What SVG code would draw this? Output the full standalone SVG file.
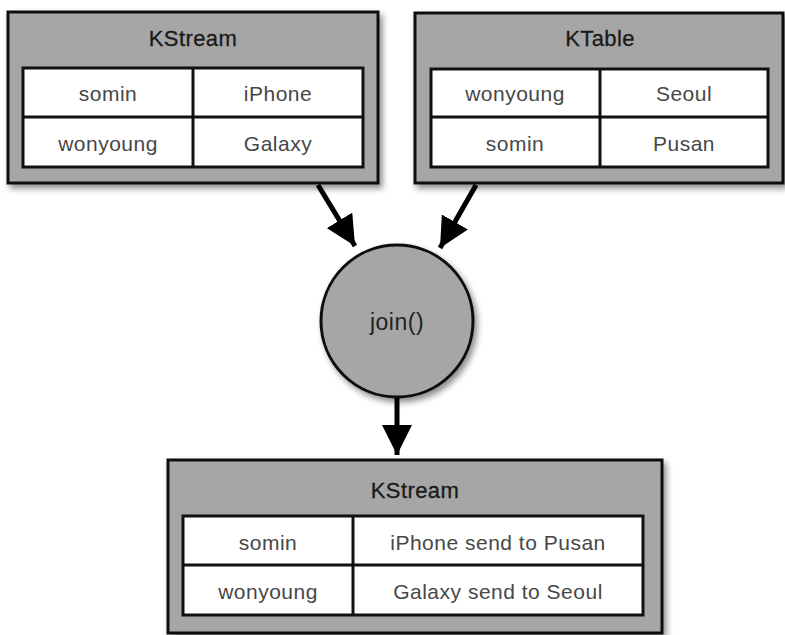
<svg xmlns="http://www.w3.org/2000/svg" width="785" height="635" viewBox="0 0 785 635">
<defs>
<filter id="sh" x="-10%" y="-10%" width="125%" height="130%">
<feDropShadow dx="3" dy="4" stdDeviation="3" flood-color="#000" flood-opacity="0.45"/>
</filter>
<marker id="ah" markerUnits="userSpaceOnUse" markerWidth="30" markerHeight="30" viewBox="0 0 26 26" refX="26" refY="13" orient="auto">
<path d="M0,0 L26,13 L0,26 Z" fill="#000"/>
</marker>
</defs>
<style>
.box{fill:#a6a6a6;stroke:#111;stroke-width:3}
.tbl{fill:#fff;stroke:#111;stroke-width:3}
.ln{stroke:#111;stroke-width:3;fill:none}
.title{font-family:"Liberation Sans",Arial,sans-serif;font-size:22px;letter-spacing:0.4px;fill:#1a1a1a;stroke:#1a1a1a;stroke-width:0.3px;text-anchor:middle}
.cell{font-family:"Liberation Sans",Arial,sans-serif;font-size:21px;letter-spacing:0.5px;fill:#474747;text-anchor:middle}
.conn{stroke:#000;stroke-width:5;fill:none;marker-end:url(#ah)}
</style>
<rect width="785" height="635" fill="#fff"/>

<g id="kstream-in">
<rect class="box" x="8" y="12" width="370" height="171" filter="url(#sh)"/>
<text class="title" x="193" y="46">KStream</text>
<rect class="tbl" x="23" y="68" width="340" height="99"/>
<line class="ln" x1="193" y1="68" x2="193" y2="167"/>
<line class="ln" x1="23" y1="117" x2="363" y2="117"/>
<text class="cell" x="108" y="101">somin</text>
<text class="cell" x="278" y="101">iPhone</text>
<text class="cell" x="108" y="151">wonyoung</text>
<text class="cell" x="278" y="151">Galaxy</text>
</g>

<g id="ktable">
<rect class="box" x="415" y="13" width="368" height="170" filter="url(#sh)"/>
<text class="title" x="600" y="46">KTable</text>
<rect class="tbl" x="431" y="69" width="337" height="98"/>
<line class="ln" x1="600" y1="69" x2="600" y2="167"/>
<line class="ln" x1="431" y1="117" x2="768" y2="117"/>
<text class="cell" x="515" y="101">wonyoung</text>
<text class="cell" x="684" y="101">Seoul</text>
<text class="cell" x="515" y="151">somin</text>
<text class="cell" x="684" y="151">Pusan</text>
</g>

<g id="join">
<circle cx="397" cy="321" r="76" fill="#a6a6a6" stroke="#111" stroke-width="3" filter="url(#sh)"/>
<text x="397" y="330" font-family="'Liberation Sans',Arial,sans-serif" font-size="23" letter-spacing="0.5" fill="#222" text-anchor="middle">join()</text>
</g>

<g id="kstream-out">
<rect class="box" x="168" y="460" width="494" height="173" filter="url(#sh)"/>
<text class="title" x="415" y="498">KStream</text>
<rect class="tbl" x="183" y="516" width="460" height="99"/>
<line class="ln" x1="353" y1="516" x2="353" y2="615"/>
<line class="ln" x1="183" y1="565" x2="643" y2="565"/>
<text class="cell" x="268" y="550">somin</text>
<text class="cell" x="498" y="550">iPhone send to Pusan</text>
<text class="cell" x="268" y="599">wonyoung</text>
<text class="cell" x="498" y="599">Galaxy send to Seoul</text>
</g>

<g id="connectors">
<line class="conn" x1="318" y1="185" x2="355" y2="246"/>
<line class="conn" x1="476" y1="185" x2="440" y2="248"/>
<line class="conn" x1="397" y1="398" x2="397" y2="455"/>
</g>
</svg>
